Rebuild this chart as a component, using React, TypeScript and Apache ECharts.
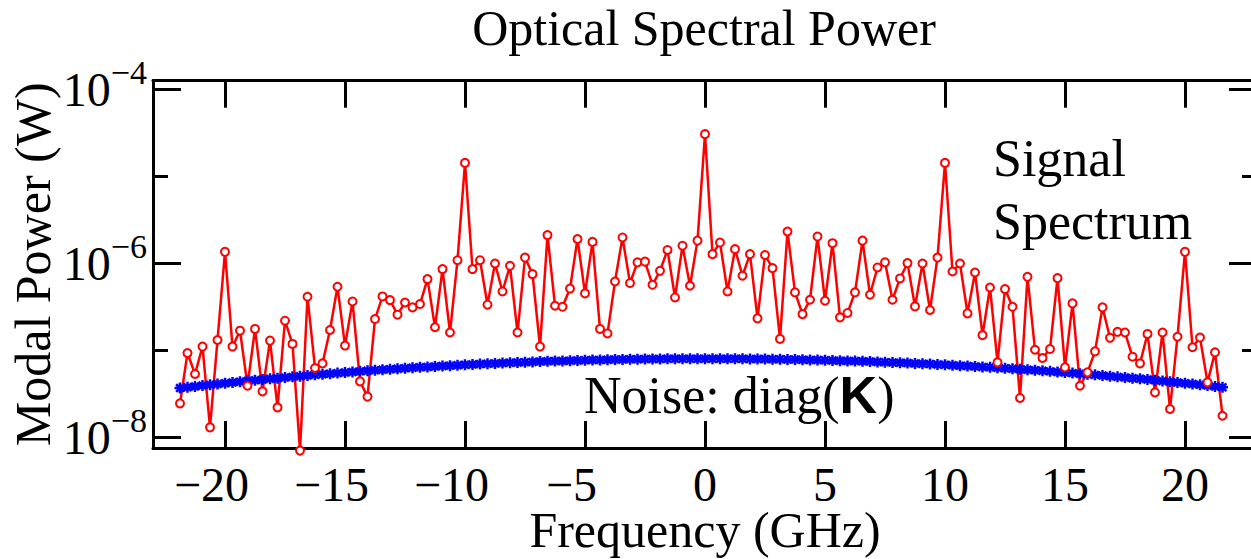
import React, { useEffect, useRef } from 'react';
import * as echarts from 'echarts';

// Frequency grid: FFT bins k = -70 … 69, 0.3125 GHz apart
const FIRST_BIN = -70;
const BIN_GHZ = 0.3125;

// Signal spectrum, modal power in W (bins -70 … 69)
const signalW = [
  2.47e-8, 9.36e-8, 5.37e-8, 1.11e-7, 1.31e-8, 1.32e-7, 1.36e-6, 1.11e-7, 1.69e-7, 3.94e-8,
  1.77e-7, 3.39e-8, 1.30e-7, 2.22e-8, 2.20e-7, 1.19e-7, 7.08e-9, 4.15e-7, 6.30e-8, 7.11e-8,
  1.72e-7, 5.40e-7, 1.14e-7, 3.66e-7, 4.42e-8, 2.95e-8, 2.30e-7, 4.18e-7, 3.80e-7, 2.58e-7,
  3.56e-7, 3.13e-7, 3.42e-7, 6.62e-7, 1.85e-7, 8.63e-7, 1.61e-7, 1.09e-6, 1.43e-5, 8.63e-7,
  1.09e-6, 3.36e-7, 1.00e-6, 4.77e-7, 9.41e-7, 1.61e-7, 1.17e-6, 7.56e-7, 1.11e-7, 2.12e-6,
  3.27e-7, 3.18e-7, 5.15e-7, 1.91e-6, 4.53e-7, 1.77e-6, 1.77e-7, 1.57e-7, 6.21e-7, 1.99e-6,
  5.96e-7, 1.03e-6, 1.05e-6, 5.69e-7, 8.24e-7, 1.43e-6, 4.07e-7, 1.60e-6, 5.55e-7, 1.83e-6,
  3.06e-5, 1.28e-6, 1.74e-6, 4.77e-7, 1.46e-6, 7.23e-7, 1.28e-6, 2.34e-7, 1.25e-6, 8.85e-7,
  1.36e-7, 2.33e-6, 4.65e-7, 2.62e-7, 3.83e-7, 2.04e-6, 3.73e-7, 1.71e-6, 2.40e-7, 2.70e-7,
  4.65e-7, 1.83e-6, 4.37e-7, 9.00e-7, 1.03e-6, 3.83e-7, 6.73e-7, 1.01e-6, 3.21e-7, 1.00e-6,
  2.92e-7, 1.17e-6, 1.43e-5, 8.09e-7, 1.00e-6, 2.67e-7, 7.88e-7, 1.50e-7, 5.30e-7, 7.30e-8,
  5.08e-7, 3.18e-7, 2.85e-8, 7.03e-7, 1.02e-7, 8.20e-8, 1.04e-7, 6.79e-7, 6.40e-8, 3.48e-7,
  3.94e-8, 5.61e-8, 9.77e-8, 3.13e-7, 1.40e-7, 1.64e-7, 1.61e-7, 8.49e-8, 7.11e-8, 1.55e-7,
  3.30e-8, 1.61e-7, 2.13e-8, 1.44e-7, 1.36e-6, 1.09e-7, 1.41e-7, 4.31e-8, 9.51e-8, 1.78e-8,
];

// Noise diag(K), in units of 1e-8 W (bins -70 … 69)
const noiseE8 = [
  3.70, 3.79, 3.87, 3.96, 4.04, 4.12, 4.21, 4.29, 4.38, 4.47,
  4.55, 4.64, 4.73, 4.81, 4.90, 4.98, 5.07, 5.16, 5.25, 5.33,
  5.42, 5.50, 5.59, 5.67, 5.76, 5.84, 5.92, 6.01, 6.09, 6.17,
  6.25, 6.33, 6.41, 6.48, 6.56, 6.63, 6.70, 6.77, 6.85, 6.91,
  6.98, 7.05, 7.11, 7.17, 7.23, 7.29, 7.35, 7.40, 7.46, 7.51,
  7.56, 7.60, 7.65, 7.69, 7.73, 7.77, 7.80, 7.84, 7.87, 7.90,
  7.92, 7.95, 7.97, 7.99, 8.00, 8.02, 8.03, 8.04, 8.05, 8.05,
  8.05, 8.05, 8.05, 8.04, 8.03, 8.02, 8.00, 7.99, 7.97, 7.95,
  7.92, 7.90, 7.87, 7.84, 7.80, 7.77, 7.73, 7.69, 7.65, 7.60,
  7.56, 7.51, 7.46, 7.40, 7.35, 7.29, 7.23, 7.17, 7.11, 7.05,
  6.98, 6.91, 6.85, 6.77, 6.70, 6.63, 6.56, 6.48, 6.41, 6.33,
  6.25, 6.17, 6.09, 6.01, 5.92, 5.84, 5.76, 5.67, 5.59, 5.50,
  5.42, 5.33, 5.25, 5.16, 5.07, 4.98, 4.90, 4.81, 4.73, 4.64,
  4.55, 4.47, 4.38, 4.29, 4.21, 4.12, 4.04, 3.96, 3.87, 3.79,
];

// Axis extents (x in GHz, y as log10 of W)
const X_MIN = -23;
const X_MAX = 23;
const X_STEP = 5;
const Y_MIN = -8.12;
const Y_MAX = -3.9;

const TITLE = 'Optical Spectral Power';
const X_NAME = 'Frequency (GHz)';
const Y_NAME = 'Modal Power (W)';

const SERIF = '"Liberation Serif", "Times New Roman", serif';
const SANS = '"Liberation Sans", Arial, sans-serif';
const MINUS = '\u2212';

export default function App() {
  const ref = useRef<HTMLDivElement>(null);

  useEffect(() => {
    const chart = echarts.init(ref.current!, null, { renderer: 'svg' });
    const freq = signalW.map((_, i) => (FIRST_BIN + i) * BIN_GHZ);
    const sig = signalW.map((v, i) => [freq[i], Math.log10(v)]);
    const noi = noiseE8.map((v, i) => [freq[i], Math.log10(v * 1e-8)]);

    const black = '#000';
    const lineStyle = { color: black, width: 3 };

    const baseX = {
      type: 'value',
      min: X_MIN,
      max: X_MAX,
      minInterval: X_STEP,
      maxInterval: X_STEP,
      splitNumber: 9,
      splitLine: { show: false },
      axisLine: { show: true, onZero: false, lineStyle },
      axisTick: { show: true, inside: true, length: 27, lineStyle },
    };

    const baseY = (position: string, step: number, len: number) => ({
      type: 'value',
      position,
      min: Y_MIN,
      max: Y_MAX,
      minInterval: step,
      maxInterval: step,
      splitNumber: step === 1 ? 4 : 2,
      splitLine: { show: false },
      axisLine: { show: true, onZero: false, lineStyle },
      axisTick: { show: true, inside: true, length: len, lineStyle },
      axisLabel: { show: false },
    });

    const option = {
      animation: false,
      backgroundColor: '#fff',
      grid: {
        left: 153,
        right: -6,
        top: 80.7,
        bottom: 111,
        containLabel: false,
        outerBoundsMode: 'none',
      },
      xAxis: [
        {
          ...baseX,
          position: 'bottom',
          name: X_NAME,
          nameLocation: 'middle',
          nameGap: 64,
          nameMoveOverlap: false,
          nameTextStyle: { fontFamily: SERIF, fontSize: 50, color: black, lineHeight: 36 },
          axisLabel: {
            show: true,
            margin: 18,
            showMinLabel: false,
            showMaxLabel: false,
            color: black,
            fontFamily: SERIF,
            fontSize: 48,
            lineHeight: 36,
            formatter: (v: number) => {
              if (Math.abs(v / X_STEP - Math.round(v / X_STEP)) > 1e-6) return '';
              if (v < 0) return `{n|${MINUS}${-v}}`;
              return `{p|${v}}`;
            },
            rich: {
              n: { fontFamily: SERIF, fontSize: 48, lineHeight: 36, color: black, padding: [0, 27, 0, 0] },
              p: { fontFamily: SERIF, fontSize: 48, lineHeight: 36, color: black },
            },
          },
        },
        { ...baseX, position: 'top', axisLabel: { show: false } },
      ],
      yAxis: [
        {
          ...baseY('left', 2, 28),
          name: Y_NAME,
          nameLocation: 'middle',
          nameGap: 95,
          nameMoveOverlap: false,
          nameTextStyle: { fontFamily: SERIF, fontSize: 50, color: black, lineHeight: 50 },
          axisLabel: {
            show: true,
            margin: 6,
            showMinLabel: false,
            showMaxLabel: false,
            formatter: (v: number) => {
              const r = Math.round(v);
              if (Math.abs(v - r) > 1e-6) return '';
              return `{b|10}{s|${MINUS}${-r}}`;
            },
            rich: {
              b: { fontFamily: SERIF, fontSize: 48, lineHeight: 68, verticalAlign: 'middle', color: black },
              s: { fontFamily: SERIF, fontSize: 34, lineHeight: 34, verticalAlign: 'top', color: black },
            },
          },
        },
        baseY('left', 1, 15),
        baseY('right', 2, 28),
        baseY('right', 1, 15),
      ],
      series: [
        {
          name: 'Noise',
          type: 'line',
          data: noi,
          xAxisIndex: 0,
          yAxisIndex: 0,
          clip: false,
          showAllSymbol: true,
          symbol: 'path://M5,0L5,10M0,5L10,5M1.5,1.5L8.5,8.5M8.5,1.5L1.5,8.5',
          symbolSize: 11,
          lineStyle: { color: '#0000ff', width: 3 },
          itemStyle: { color: '#0000ff', borderColor: '#0000ff', borderWidth: 2.5 },
        },
        {
          name: 'Signal',
          type: 'line',
          data: sig,
          xAxisIndex: 0,
          yAxisIndex: 0,
          clip: false,
          showAllSymbol: true,
          symbol: 'emptyCircle',
          symbolSize: 8,
          lineStyle: { color: '#ff0000', width: 2.5 },
          itemStyle: { color: '#ff0000', borderColor: '#ff0000', borderWidth: 2 },
        },
      ],
      graphic: [
        {
          type: 'text',
          x: 704,
          y: 28,
          style: { text: TITLE, fontFamily: SERIF, fontSize: 50, fill: black, align: 'center', verticalAlign: 'middle' },
        },
        {
          type: 'text',
          x: 993,
          y: 158,
          style: { text: 'Signal', fontFamily: SERIF, fontSize: 52, fill: black, align: 'left', verticalAlign: 'middle' },
        },
        {
          type: 'text',
          x: 993,
          y: 221,
          style: { text: 'Spectrum', fontFamily: SERIF, fontSize: 52, fill: black, align: 'left', verticalAlign: 'middle' },
        },
        {
          type: 'text',
          x: 584,
          y: 395,
          style: {
            text: '{t|Noise: diag(}{k|K}{t|)}',
            align: 'left',
            verticalAlign: 'middle',
            rich: {
              t: { fontFamily: SERIF, fontSize: 52, fill: black, color: black },
              k: { fontFamily: SANS, fontSize: 52, fontWeight: 'bold', fill: black, color: black },
            },
          },
        },
      ],
    };

    chart.setOption(option as any);
    return () => chart.dispose();
  }, []);

  return (
    <div
      ref={ref}
      style={{ position: 'fixed', left: 0, top: 0, width: 1251, height: 559, background: '#fff' }}
    />
  );
}
